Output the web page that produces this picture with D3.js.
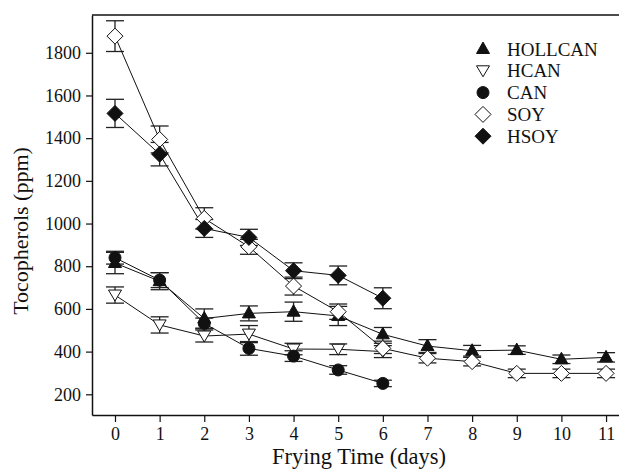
<!DOCTYPE html>
<html>
<head>
<meta charset="utf-8">
<script src="https://cdn.jsdelivr.net/npm/d3@7"></script>
<style>
  body { margin: 0; background: #fff; }
  text { font-family: "Liberation Serif", "DejaVu Serif", serif; fill: #111; }
</style>
</head>
<body>
<div id="chart"></div>
<script>
var days = [0, 1, 2, 3, 4, 5, 6, 7, 8, 9, 10, 11];
var xTicks = [0, 1, 2, 3, 4, 5, 6, 7, 8, 9, 10, 11];
var yTicks = [200, 400, 600, 800, 1000, 1200, 1400, 1600, 1800];

var hollcan    = [815, 730, 555, 579, 587, 567, 481, 426, 404, 407, 364, 373];
var hollcanErr = [50, 40, 45, 35, 45, 45, 32, 30, 25, 20, 20, 22];
var hcan       = [665, 525, 473, 482, 412, 411, 400];
var hcanErr    = [38, 38, 28, 40, 27, 25, 28];
var can        = [840, 735, 532, 415, 379, 314, 251];
var canErr     = [30, 35, 25, 32, 25, 20, 15];
var soy        = [1878, 1394, 1024, 891, 707, 587, 415, 369, 353, 298, 298, 298];
var soyErr     = [72, 63, 50, 35, 42, 36, 24, 22, 20, 20, 20, 20];
var hsoy       = [1516, 1325, 977, 935, 779, 757, 650];
var hsoyErr    = [66, 55, 42, 38, 37, 44, 49];

var seriesNames = ["HOLLCAN", "HCAN", "CAN", "SOY", "HSOY"];

var width = 619, height = 472;

var series = [
  {name: "HOLLCAN", vals: hollcan, err: hollcanErr, shape: "triUp",   fill: "#111"},
  {name: "HCAN",    vals: hcan,    err: hcanErr,    shape: "triDown", fill: "#fff"},
  {name: "CAN",     vals: can,     err: canErr,     shape: "circle",  fill: "#111"},
  {name: "SOY",     vals: soy,     err: soyErr,     shape: "diamond", fill: "#fff"},
  {name: "HSOY",    vals: hsoy,    err: hsoyErr,    shape: "diamond", fill: "#111"}
];

var x = d3.scaleLinear().domain([-0.515, 11.29]).range([92, 619]);
var y = d3.scaleLinear().domain([103, 1977]).range([415, 15]);

var svg = d3.select("#chart").append("svg")
    .attr("width", width)
    .attr("height", height);

// frame: top line + axes
svg.append("line")
    .attr("x1", x.range()[0]).attr("x2", x.range()[1])
    .attr("y1", y.range()[1]).attr("y2", y.range()[1])
    .attr("stroke", "#111").attr("stroke-width", 1.5);

var xAxis = svg.append("g")
    .attr("transform", "translate(0," + y.range()[0] + ")")
    .call(d3.axisBottom(x).tickValues(xTicks).tickSizeInner(7).tickSizeOuter(0).tickPadding(5));
var yAxis = svg.append("g")
    .attr("transform", "translate(" + x.range()[0] + ",0)")
    .call(d3.axisLeft(y).tickValues(yTicks).tickFormat(d3.format("d"))
      .tickSizeInner(6).tickSizeOuter(0).tickPadding(5));

[xAxis, yAxis].forEach(function(a) {
  a.select(".domain").attr("stroke", "#111").attr("stroke-width", 1.5);
  a.selectAll(".tick line").attr("stroke", "#111").attr("stroke-width", 1.2);
  a.selectAll("text").style("font-size", "18px").attr("fill", "#111")
    .style("font-family", '"Liberation Serif", serif');
});

svg.append("text")
    .attr("x", 359).attr("y", 464)
    .attr("text-anchor", "middle")
    .style("font-size", "22.5px")
    .text("Frying Time (days)");

svg.append("text")
    .attr("transform", "translate(28,231) rotate(-90)")
    .attr("text-anchor", "middle")
    .style("font-size", "22px")
    .text("Tocopherols (ppm)");

function shapePath(shape) {
  if (shape == "triUp") return "M0,-7 L6.5,4.5 L-6.5,4.5 Z";
  if (shape == "triDown") return "M0,6 L6.5,-5 L-6.5,-5 Z";
  if (shape == "diamond") return "M0,-8 L8,0 L0,8 L-8,0 Z";
  return "M6,0 A6,6 0 1,1 -6,0 A6,6 0 1,1 6,0 Z";
}

var line = d3.line()
    .x(function(d, i) { return x(days[i]); })
    .y(function(d) { return y(d); });

// error bars
series.forEach(function(s) {
  var g = svg.append("g").attr("class", "err");
  s.vals.forEach(function(v, i) {
    var cx = x(days[i]);
    var lo = y(v - s.err[i]), hi = y(v + s.err[i]);
    g.append("line").attr("x1", cx).attr("x2", cx).attr("y1", lo).attr("y2", hi);
    g.append("line").attr("x1", cx - 9).attr("x2", cx + 9).attr("y1", lo).attr("y2", lo);
    g.append("line").attr("x1", cx - 9).attr("x2", cx + 9).attr("y1", hi).attr("y2", hi);
  });
  g.selectAll("line").attr("stroke", "#222").attr("stroke-width", 1.3);
});

// connecting lines
series.forEach(function(s) {
  svg.append("path")
      .datum(s.vals)
      .attr("d", line)
      .attr("fill", "none")
      .attr("stroke", "#111")
      .attr("stroke-width", 1);
});

// markers
series.forEach(function(s) {
  svg.append("g").selectAll("path")
      .data(s.vals)
      .enter().append("path")
      .attr("transform", function(d, i) { return "translate(" + x(days[i]) + "," + y(d) + ")"; })
      .attr("d", shapePath(s.shape))
      .attr("fill", s.fill)
      .attr("stroke", "#111")
      .attr("stroke-width", 1);
});

// legend
var legend = svg.append("g").attr("transform", "translate(483,49)");
var row = legend.selectAll("g")
    .data(series)
    .enter().append("g")
    .attr("transform", function(d, i) { return "translate(0," + (i * 21.8) + ")"; });
row.append("path")
    .attr("d", function(d) { return shapePath(d.shape); })
    .attr("fill", function(d) { return d.fill; })
    .attr("stroke", "#111");
row.append("text")
    .attr("x", 24).attr("y", 6.5)
    .style("font-size", "19px")
    .text(function(d, i) { return seriesNames[i]; });
</script>
</body>
</html>
